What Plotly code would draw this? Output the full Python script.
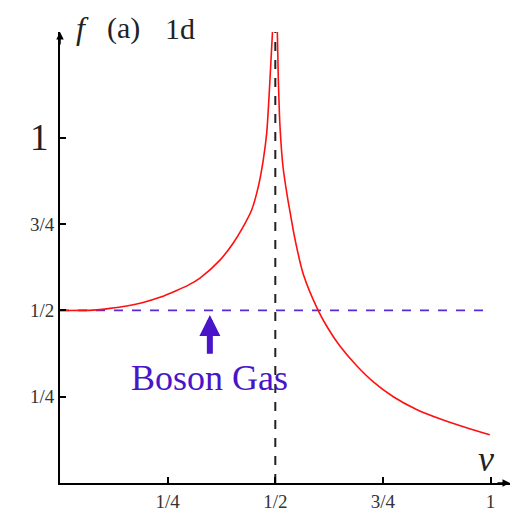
import plotly.graph_objects as go

# Data
left_x = [0.0, 0.077, 0.116, 0.155, 0.193, 0.232, 0.271, 0.300, 0.325, 0.3715, 0.402,
          0.4256, 0.445, 0.4605, 0.472, 0.480, 0.485, 0.490, 0.4946]
left_y = [0.5, 0.501, 0.506, 0.513, 0.523, 0.538, 0.558, 0.575, 0.594, 0.646, 0.695,
          0.743, 0.791, 0.859, 0.936, 1.014, 1.110, 1.226, 1.335]
right_x = [0.5046, 0.507, 0.511, 0.518, 0.528, 0.534, 0.546, 0.565, 0.600, 0.623, 0.650,
           0.689, 0.727, 0.774, 0.828, 0.882, 0.944, 0.998]
right_y = [1.313, 1.170, 1.030, 0.915, 0.830, 0.787, 0.705, 0.605, 0.499, 0.447, 0.397,
           0.340, 0.294, 0.250, 0.213, 0.186, 0.160, 0.140]
boson_x = [0.0, 1.0]
boson_y = [0.5, 0.5]
crit_x = [0.5, 0.5]
crit_y = [0.0, 1.313]
tick_vals = [0.25, 0.5, 0.75, 1.0]
tick_text = ["1/4", "1/2", "3/4", "1"]

SERIF = "Liberation Serif, DejaVu Serif, serif"
PURPLE = "#4a14c8"
INK = "#222222"

fig = go.Figure()
fig.add_trace(go.Scatter(x=boson_x, y=boson_y, mode="lines",
                         line=dict(color="#5a2ad6", width=1.8, dash="dash"), showlegend=False))
fig.add_trace(go.Scatter(x=crit_x, y=crit_y, mode="lines",
                         line=dict(color=INK, width=2, dash="dash"), showlegend=False))
fig.add_trace(go.Scatter(x=left_x, y=left_y, mode="lines",
                         line=dict(color="#ff1010", width=1.6, shape="spline", smoothing=0.8),
                         showlegend=False))
fig.add_trace(go.Scatter(x=right_x, y=right_y, mode="lines",
                         line=dict(color="#ff1010", width=1.6, shape="spline", smoothing=0.8),
                         showlegend=False))

fig.update_layout(
    width=512, height=512,
    margin=dict(l=60, r=2, t=32, b=29),
    plot_bgcolor="white", paper_bgcolor="white",
    font=dict(family=SERIF, color=INK),
    xaxis=dict(range=[0, 1.045], showgrid=False, zeroline=False, automargin=False,
               showline=True, linecolor="black", linewidth=2,
               ticks="inside", ticklen=6, tickwidth=1.5, tickcolor="black",
               tickvals=tick_vals, ticktext=tick_text,
               tickfont=dict(size=19, family=SERIF, color="#333333")),
    yaxis=dict(range=[0, 1.307], showgrid=False, zeroline=False, automargin=False,
               showline=True, linecolor="black", linewidth=2,
               ticks="inside", ticklen=6, tickwidth=1.5, tickcolor="black",
               tickvals=tick_vals, ticktext=["1/4", "1/2", "3/4", ""],
               tickfont=dict(size=19, family=SERIF, color="#333333")),
)

# Axis arrowheads
fig.add_annotation(x=1.045, y=0, xref="x", yref="y", ax=-14, ay=0, text="",
                   showarrow=True, arrowhead=2, arrowsize=1, arrowwidth=1.5, arrowcolor="black")
fig.add_annotation(x=0, y=1.307, xref="x", yref="y", ax=0, ay=14, text="",
                   showarrow=True, arrowhead=2, arrowsize=1, arrowwidth=1.5, arrowcolor="black")

# Large "1" label on y axis
fig.add_annotation(x=0, y=1.0, xref="paper", yref="y", text="1", showarrow=False,
                   xanchor="right", xshift=-9, font=dict(size=37, family=SERIF, color=INK))

# Panel label: f (a) 1d
fig.add_annotation(x=(82 - 60) / 450, y=1 + (32 - 28) / 451, xref="paper", yref="paper",
                   text="<i>f</i>", showarrow=False, xanchor="center", yanchor="middle",
                   font=dict(size=32, family=SERIF, color=INK))
fig.add_annotation(x=(123 - 60) / 450, y=1 + (32 - 28) / 451, xref="paper", yref="paper",
                   text="(a)", showarrow=False, xanchor="center", yanchor="middle",
                   font=dict(size=30, family=SERIF, color=INK))
fig.add_annotation(x=(180 - 60) / 450, y=1 + (32 - 28) / 451, xref="paper", yref="paper",
                   text="1d", showarrow=False, xanchor="center", yanchor="middle",
                   font=dict(size=30, family=SERIF, color=INK))

# nu label
fig.add_annotation(x=0.99, y=0, xref="x", yref="y", text="<i>ν</i>", showarrow=False,
                   xanchor="center", yanchor="bottom", yshift=2,
                   font=dict(size=36, family=SERIF, color=INK))

# Boson Gas label and arrow
fig.add_annotation(x=0.348, y=0.487, xref="x", yref="y", ax=0.348, ay=0.37, axref="x", ayref="y",
                   text="", showarrow=True, arrowhead=2, arrowsize=0.7, arrowwidth=6,
                   arrowcolor=PURPLE)
fig.add_annotation(x=0.348, y=0.305, xref="x", yref="y", text="Boson Gas", showarrow=False,
                   xanchor="center", yanchor="middle",
                   font=dict(size=36, family=SERIF, color=PURPLE))

fig.write_html("out.html", config={"displayModeBar": False},
               post_script="document.body.style.margin='0px';document.body.style.padding='0px';")
